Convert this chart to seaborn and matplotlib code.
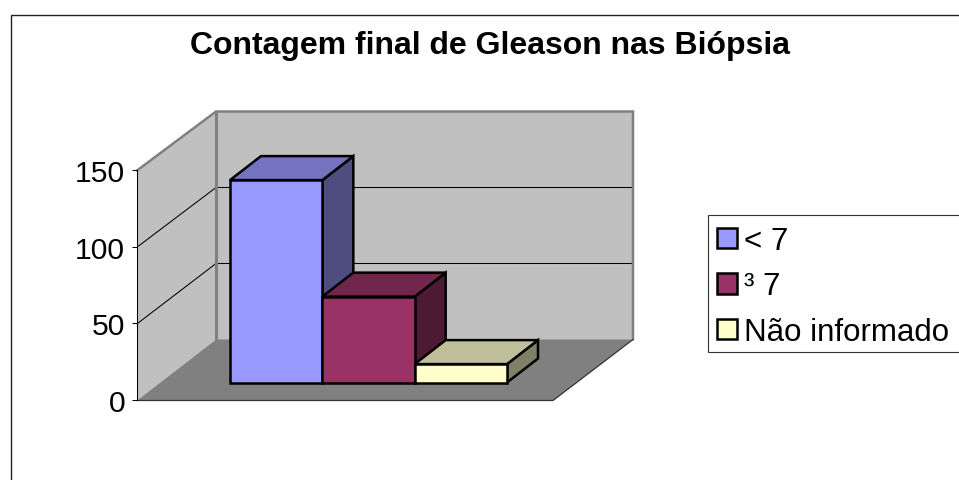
import matplotlib
matplotlib.use('Agg')
import pandas as pd
import seaborn as sns
import matplotlib.pyplot as plt
from matplotlib.patches import Patch, Polygon, Rectangle

title = 'Contagem final de Gleason nas Biópsia'
series = ['< 7', '³ 7', 'Não informado']
values = [132, 56, 12]
yticks = [0, 50, 100, 150]

front_colors = ['#9999FF', '#993366', '#FFFFCC']
top_colors = ['#7373BF', '#73264C', '#BFBF99']
side_colors = ['#4D4D80', '#4D1A33', '#808066']

W, H = 959, 481
sns.set_theme(style='white')
plt.rcParams['font.family'] = ['Liberation Sans']


def place(fig, x0, x1, y_top, y_bottom):
    # axes rectangle from image pixels
    return fig.add_axes([x0 / W, 1 - y_bottom / H, (x1 - x0) / W, (y_bottom - y_top) / H])


fig = plt.figure(figsize=(W / 100, H / 100), dpi=100, facecolor='white')

# background: frame, walls and floor, in pixel coordinates
bg = fig.add_axes([0, 0, 1, 1])
bg.set_xlim(0, W)
bg.set_ylim(H - 0.5, -0.5)
bg.axis('off')

bg.plot([11, 11, W], [H, 15.5, 15.5], color='#222222', lw=1.0, solid_joinstyle='miter')
bg.text(489.5, 45.5, title, ha='center', va='center', fontsize=23, fontweight='bold', color='black')

bg.add_patch(Polygon([(137, 171), (216, 112), (216, 340), (137, 401)], fc='#C0C0C0', ec='none'))
bg.add_patch(Polygon([(216, 112), (633, 112), (633, 340), (216, 340)], fc='#C0C0C0', ec='none'))
bg.add_patch(Polygon([(137, 401), (216, 340), (633, 340), (553, 401)], fc='#808080', ec='none'))

for v in yticks[1:-1]:
    yf = 401 - v * 230 / 150
    yb = 340 - v * 228 / 150
    bg.plot([137, 216, 633], [yf, yb, yb], color='black', lw=0.75, solid_joinstyle='miter')

bg.plot([137, 216, 633, 633], [171, 112, 112, 340], color='#808080', lw=1.8, solid_joinstyle='miter')
bg.plot([216, 216], [112, 340], color='#808080', lw=2.2)
bg.plot([137, 553, 633], [401, 401, 340], color='#333333', lw=0.9)

# legend box runs off the right edge of the picture
bg.add_patch(Rectangle((708, 215), W, 137, fc='white', ec='#333333', lw=0.8))

# value axis on the front edge of the left wall
ax_val = place(fig, 137, 553, 171, 401)
ax_val.patch.set_visible(False)
ax_val.set_xlim(0, 1)
ax_val.set_ylim(0, 150)
ax_val.set_xticks([])
ax_val.set_yticks(yticks)
ax_val.tick_params(axis='y', left=True, length=3.6, width=0.75, color='black', labelsize=21.7, pad=5, labelcolor='black')
sns.despine(ax=ax_val, left=False, bottom=True)
ax_val.spines['left'].set_color('black')
ax_val.spines['left'].set_linewidth(0.75)

# the bars stand in the middle of the floor
ax_bar = place(fig, 230, 507, 153.5, 383.5)
ax_bar.patch.set_visible(False)
df = pd.DataFrame({'grupo': [''] * len(series), 'serie': series, 'n': values})
sns.barplot(data=df, x='grupo', y='n', hue='serie', hue_order=series, palette=front_colors,
            width=0.9, gap=0, saturation=1, edgecolor='black', linewidth=1.8, legend=False,
            ax=ax_bar, zorder=3)
ax_bar.set_xlim(-0.45, 0.45)
ax_bar.set_ylim(0, 150)
ax_bar.axis('off')

ddx = 31 * 0.9 / 277
ddy = 24 * 150 / 230
for bar, top_c, side_c in zip(ax_bar.patches, top_colors, side_colors):
    x0 = bar.get_x()
    x1 = x0 + bar.get_width()
    h = bar.get_height()
    ax_bar.add_patch(Polygon([(x1, 0), (x1 + ddx, ddy), (x1 + ddx, h + ddy), (x1, h)], fc=side_c,
                             ec='black', lw=1.8, clip_on=False, joinstyle='miter'))
    ax_bar.add_patch(Polygon([(x0, h), (x0 + ddx, h + ddy), (x1 + ddx, h + ddy), (x1, h)], fc=top_c,
                             ec='black', lw=1.8, clip_on=False, joinstyle='miter'))
    bar.set_clip_on(False)

handles = [Patch(fc=c, ec='black', lw=1.8, label=s) for c, s in zip(front_colors, series)]
leg = fig.legend(handles=handles, loc='upper left', bbox_to_anchor=(708 / W, 1 - 217.5 / H),
                 bbox_transform=fig.transFigure, frameon=False, fontsize=22.5,
                 handlelength=0.64, handleheight=0.64, handletextpad=0.2, borderpad=0.3,
                 borderaxespad=0, labelspacing=0.5)
for t in leg.get_texts():
    t.set_color('black')

fig.savefig('out.png', dpi=100)
plt.close(fig)
